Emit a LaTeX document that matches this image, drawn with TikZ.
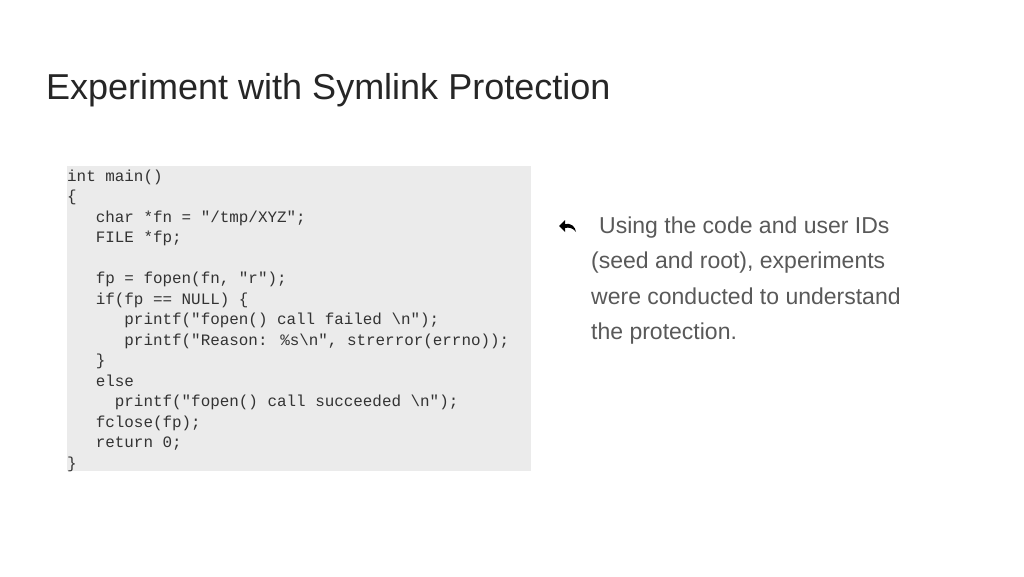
\documentclass[tikz,border=0pt]{standalone}
\usepackage{fontspec}
\setmainfont{Liberation Sans}
\newfontfamily\codefont{Liberation Mono}
\begin{document}
\begin{tikzpicture}[x=1pt,y=-1pt,
  codeline/.style={anchor=base west,inner sep=0pt,font=\codefont\fontsize{15.9}{16}\selectfont,text=black!80},
  bodyline/.style={anchor=base west,inner sep=0pt,font=\fontsize{23}{23}\selectfont,text=black!65}]
\useasboundingbox[fill=white] (0,0) rectangle (1024,576);
\node[anchor=base west,inner sep=0pt,font=\fontsize{36}{36}\selectfont,text=black!85] (title) at (46,99) {Experiment with Symlink Protection};
\fill[black!8] (67,166) rectangle (531,471);
\def\lines{{"int main()","{","   char *fn = \"/tmp/XYZ\";","   FILE *fp;","","   fp = fopen(fn, \"r\");","   if(fp == NULL) {","      printf(\"fopen() call failed \textbackslash n\");","      printf(\"Reason: \%s\textbackslash n\", strerror(errno));","   }","   else","     printf(\"fopen() call succeeded \textbackslash n\");","   fclose(fp);","   return 0;","}"}}
\node[codeline] (c0) at (67,181) {int main()};
\node[codeline] (c1) at (67,201.5) {\{};
\node[codeline] (c2) at (67,222) {\obeyspaces\ \ \ char *fn = "/tmp/XYZ";};
\node[codeline] (c3) at (67,242.5) {\ \ \ FILE *fp;};
\node[codeline] (c5) at (67,283.5) {\ \ \ fp = fopen(fn, "r");};
\node[codeline] (c6) at (67,304) {\ \ \ if(fp == NULL) \{};
\node[codeline] (c7) at (67,324.5) {\ \ \ \ \ \ printf("fopen() call failed \textbackslash n");};
\node[codeline] (c8) at (67,345) {\ \ \ \ \ \ printf("Reason: \%s\textbackslash n", strerror(errno));};
\node[codeline] (c9) at (67,365.5) {\ \ \ \}};
\node[codeline] (c10) at (67,386) {\ \ \ else};
\node[codeline] (c11) at (67,406.5) {\ \ \ \ \ printf("fopen() call succeeded \textbackslash n");};
\node[codeline] (c12) at (67,427) {\ \ \ fclose(fp);};
\node[codeline] (c13) at (67,447.5) {\ \ \ return 0;};
\node[codeline] (c14) at (67,468) {\}};
% bullet icon
\fill[black] (559,226) -- (565,220) -- (565,224) .. controls (571,223) and (575,226) .. (576,232) .. controls (573,228) and (569,227) .. (565,228) -- (565,232) -- cycle;
\node[bodyline] (b1) at (599,233) {Using the code and user IDs};
\node[bodyline] (b2) at (591,268.5) {(seed and root), experiments};
\node[bodyline] (b3) at (591,304) {were conducted to understand};
\node[bodyline] (b4) at (591,339.5) {the protection.};
\end{tikzpicture}
\end{document}
